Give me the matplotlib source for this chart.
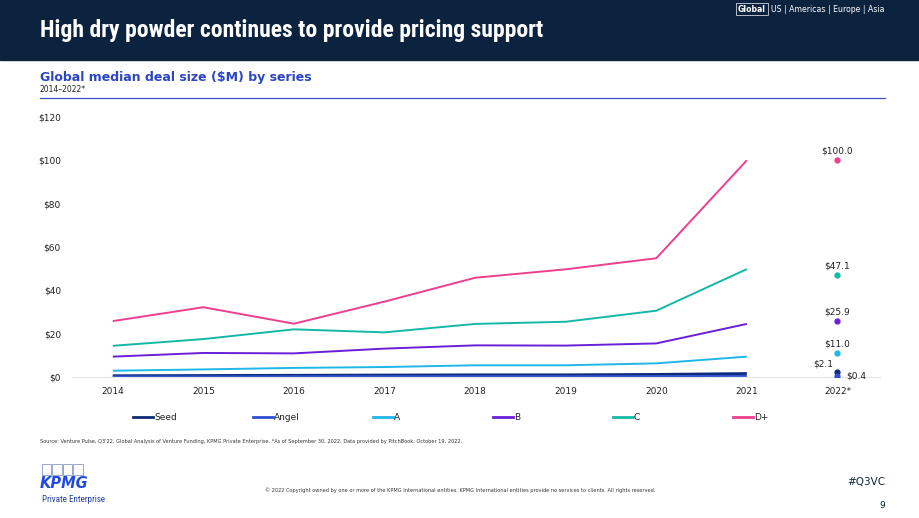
import numpy as np
import matplotlib.pyplot as plt
from matplotlib import font_manager
from matplotlib.patches import Rectangle
from matplotlib.lines import Line2D

# ----------------------------
# Data
# ----------------------------
years = [2014, 2015, 2016, 2017, 2018, 2019, 2020, 2021]
year_labels = ["2014", "2015", "2016", "2017", "2018", "2019", "2020", "2021", "2022*"]

seed  = [0.6, 0.7, 0.8, 0.9, 1.0, 1.0, 1.2, 1.6]
angel = [0.3, 0.3, 0.35, 0.4, 0.4, 0.4, 0.4, 0.5]
a     = [2.9, 3.5, 4.2, 4.6, 5.4, 5.4, 6.3, 9.4]
b     = [9.4, 11.1, 10.9, 13.1, 14.6, 14.5, 15.5, 24.5]
c     = [14.4, 17.5, 22.0, 20.6, 24.5, 25.5, 30.6, 49.8]
d     = [25.8, 32.2, 24.6, 34.8, 45.8, 49.7, 54.8, 100.0]

ytd_2022 = [2.1, 0.4, 11.0, 25.9, 47.1, 100.0]

series_names = ["Seed", "Angel", "A", "B", "C", "D+"]
series_vals = [seed, angel, a, b, c, d]
colors = ["#0d2b78", "#2f4fd0", "#1fb6e8", "#6a1fd8", "#14b8a6", "#ec3f8e"]

navy = "#0c2340"

# pick a narrow family for the headline if one is installed
installed = {f.name for f in font_manager.fontManager.ttflist}
narrow = [n for n in ["Liberation Sans Narrow", "Roboto Condensed", "Open Sans Condensed",
                      "DejaVu Sans Condensed", "Noto Sans Condensed"] if n in installed]
title_family = narrow[0] if narrow else "DejaVu Sans"

fig = plt.figure(figsize=(9.2, 5.18), dpi=100)
W, H = 920, 518

def fx(px):
    return px / W

def fy(py):
    return 1 - py / H

# header band
fig.patches.append(Rectangle((0, fy(60)), 1, 60 / H, transform=fig.transFigure,
                             color=navy, zorder=0))
title = fig.text(fx(40), fy(30), "High dry powder continues to provide pricing support",
                 color="white", fontsize=24, fontweight="bold", family=title_family,
                 fontstretch="condensed", va="center", ha="left")
# shrink headline until it fits the same width as the original (~500 px)
r = fig.canvas.get_renderer()
wpx = title.get_window_extent(r).width
if wpx > 505:
    title.set_fontsize(24 * 505 / wpx)

fig.text(fx(738), fy(9), "Global", color="white", fontsize=5.6, fontweight="bold",
         va="center", ha="left",
         bbox=dict(boxstyle="square,pad=0.2", fc="none", ec="#cfd6e0", lw=0.6))
fig.text(fx(771), fy(9), "US | Americas | Europe | Asia", color="white",
         fontsize=5.6, va="center", ha="left")

# subtitle + rule
fig.text(fx(40), fy(77), "Global median deal size ($M) by series", color="#2b45c4",
         fontsize=9, fontweight="bold", va="center")
fig.text(fx(40), fy(90), "2014\u20132022*", color="#222222", fontsize=5.5, va="center")
fig.add_artist(Line2D([fx(40), fx(885)], [fy(98), fy(98)], color="#3a50b8", lw=0.9))

# ----------------------------
# Main chart
# ----------------------------
ax = fig.add_axes([fx(72), fy(377), fx(880) - fx(72), (377 - 117) / H])
for name, vals, col in zip(series_names, series_vals, colors):
    lw = 2.0 if name == "Seed" else 1.4
    ax.plot(years, vals, color=col, lw=lw, label=name, solid_capstyle="butt")

x22 = 2022
for val, col in zip(ytd_2022, colors):
    ax.plot([x22], [val], "o", color=col, ms=3.5, zorder=5)

for val, name in zip(ytd_2022, series_names):
    txt = "$%.1f" % val
    if name == "Seed":
        ax.annotate(txt, (x22, val), xytext=(-3, 3), textcoords="offset points",
                    ha="right", va="bottom", fontsize=6.5, color="#222222")
    elif name == "Angel":
        ax.annotate(txt, (x22, val), xytext=(6, 0), textcoords="offset points",
                    ha="left", va="center", fontsize=6.5, color="#222222")
    else:
        ax.annotate(txt, (x22, val), xytext=(0, 3.5), textcoords="offset points",
                    ha="center", va="bottom", fontsize=6.5, color="#222222")

ax.set_xlim(2013.55, 2022.47)
ax.set_ylim(0, 120)
ax.set_xticks(years + [x22])
ax.set_xticklabels(year_labels)
ax.set_yticks(np.arange(0, 121, 20))
ax.set_yticklabels(["$%d" % v for v in range(0, 121, 20)])
ax.tick_params(length=0, labelsize=6.5, colors="#222222")
ax.tick_params(axis="y", pad=8)
ax.tick_params(axis="x", pad=7)
for s in ["top", "right", "left"]:
    ax.spines[s].set_visible(False)
ax.spines["bottom"].set_color("#e6e6e6")
ax.spines["bottom"].set_linewidth(0.8)
ax.patch.set_alpha(0)

# legend row (evenly spaced entries)
for i, (name, col) in enumerate(zip(series_names, colors)):
    x0 = 133 + 120 * i
    fig.add_artist(Line2D([fx(x0), fx(x0 + 20)], [fy(417), fy(417)], color=col, lw=2))
    fig.text(fx(x0 + 21), fy(417), name, fontsize=6.5, va="center", ha="left",
             color="#222222")

# footer
fig.text(fx(40), fy(441),
         "Source: Venture Pulse, Q3'22, Global Analysis of Venture Funding, KPMG Private Enterprise. "
         "*As of September 30, 2022. Data provided by PitchBook, October 19, 2022.",
         fontsize=3.6, color="#333333", va="center")
fig.text(fx(460), fy(490),
         "\u00a9 2022 Copyright owned by one or more of the KPMG International entities. "
         "KPMG International entities provide no services to clients. All rights reserved.",
         fontsize=3.6, color="#333333", va="center", ha="center")
fig.text(fx(885), fy(482), "#Q3VC", fontsize=7.5, color=navy, va="center", ha="right")
fig.text(fx(885), fy(505), "9", fontsize=6.5, color=navy, va="center", ha="right")

# KPMG mark
for k in range(4):
    fig.patches.append(Rectangle((fx(42 + 10.5 * k), fy(475)), fx(9.5), 11 / H,
                                 transform=fig.transFigure, fc="none",
                                 ec="#8a9ac8", lw=0.6))
fig.text(fx(40), fy(484), "KPMG", fontsize=10.5, fontweight="bold", style="italic",
         color="#1e49e2", va="center", ha="left")
fig.text(fx(42), fy(499), "Private Enterprise", fontsize=6.5, color="#1e3f9a",
         family=title_family, va="center", ha="left")

fig.savefig("out.png", dpi=100)
